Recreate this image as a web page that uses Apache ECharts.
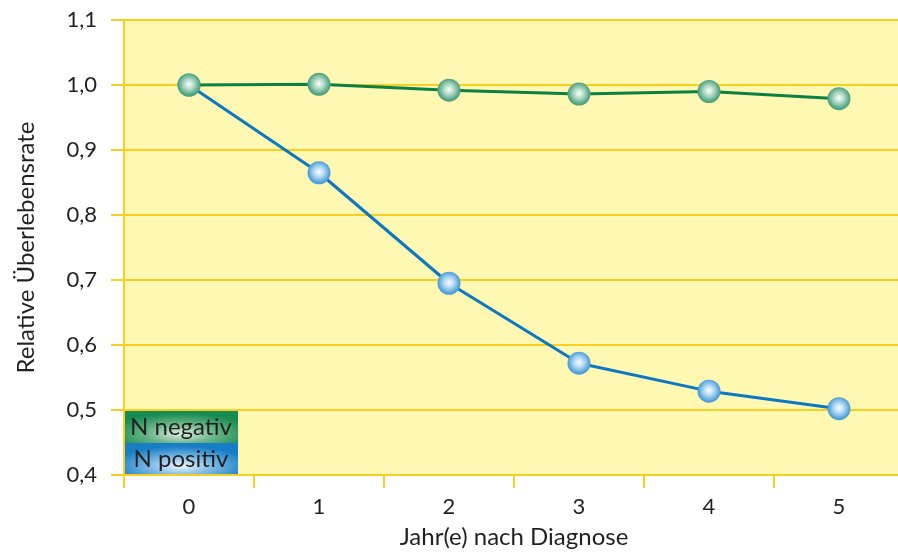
<!DOCTYPE html>
<html>
<head>
<meta charset="utf-8">
<style>
  html, body { margin: 0; padding: 0; background: #ffffff; }
  #chart { width: 898px; height: 552px; }
</style>
<script src="https://cdn.jsdelivr.net/npm/echarts@6/dist/echarts.min.js"></script>
</head>
<body>
<div id="chart"></div>
<script>
// Years after diagnosis
const years = ['0', '1', '2', '3', '4', '5'];
// Relative survival, node-negative patients
const nNegativ = [1.000, 1.001, 0.992, 0.986, 0.990, 0.979];
// Relative survival, node-positive patients
const nPositiv = [1.000, 0.865, 0.695, 0.572, 0.529, 0.502];
// Value axis range
const yMin = 0.4, yMax = 1.1, yStep = 0.1;

const gold = '#F8CF1F';
const textColor = '#231F20';
const font = 'Lato';

// Shaded ball used as the point marker
function sphere(mid, edge) {
  return {
    type: 'radial', x: 0.5, y: 0.47, r: 0.55,
    colorStops: [
      { offset: 0, color: '#ffffff' },
      { offset: 0.45, color: mid },
      { offset: 0.85, color: edge },
      { offset: 1, color: edge }
    ]
  };
}

// Soft glow fill for the key boxes
function glow(light, mid, edge) {
  return {
    type: 'radial', x: 0.5, y: 0.72, r: 0.62,
    colorStops: [
      { offset: 0, color: light },
      { offset: 0.45, color: mid },
      { offset: 1, color: edge }
    ]
  };
}

const boxW = 114, boxH = 33;
const sx = boxW / boxH;

const chart = echarts.init(document.getElementById('chart'));
chart.setOption({
  animation: false,
  textStyle: { fontFamily: font, color: textColor },
  grid: {
    left: 124, top: 20, bottom: 77, width: 780,
    outerBoundsMode: 'none',
    containLabel: false,
    show: true, backgroundColor: '#FEF8B2', borderWidth: 0
  },
  xAxis: {
    type: 'category',
    data: years,
    boundaryGap: true,
    name: 'Jahr(e) nach Diagnose',
    nameLocation: 'middle',
    nameGap: 50,
    nameTextStyle: { fontSize: 24, color: textColor, fontFamily: font },
    axisLine: { show: true, lineStyle: { color: gold, width: 2 } },
    axisTick: { show: true, length: 13, lineStyle: { color: gold, width: 2 } },
    axisLabel: { fontSize: 22, color: textColor, margin: 21, fontFamily: font },
    splitLine: { show: false }
  },
  yAxis: {
    type: 'value',
    min: yMin, max: yMax, interval: yStep,
    name: 'Relative Überlebensrate',
    nameLocation: 'middle',
    nameGap: 86,
    nameRotate: 90,
    nameTextStyle: { fontSize: 24, color: textColor, fontFamily: font },
    axisLine: { show: true, lineStyle: { color: gold, width: 2 } },
    axisTick: { show: true, length: 13, lineStyle: { color: gold, width: 2 } },
    axisLabel: {
      fontSize: 22, color: textColor, margin: 27, fontFamily: font,
      formatter: v => v.toFixed(1).replace('.', ',')
    },
    splitLine: { show: true, lineStyle: { color: gold, width: 2 } }
  },
  series: [
    {
      name: 'N positiv',
      type: 'line',
      data: nPositiv,
      symbol: 'circle',
      symbolSize: 23,
      lineStyle: { color: '#0A78C2', width: 3 },
      itemStyle: { color: sphere('#A9D3F0', '#4E9FD8'), borderWidth: 0 },
      z: 2
    },
    {
      name: 'N negativ',
      type: 'line',
      data: nNegativ,
      symbol: 'circle',
      symbolSize: 23,
      lineStyle: { color: '#0B8043', width: 3 },
      itemStyle: { color: sphere('#A6D4BE', '#4FA27F'), borderWidth: 0 },
      z: 3
    }
  ],
  graphic: [
    {
      type: 'group',
      left: 124,
      top: 410,
      z: 10,
      children: [
        {
          type: 'group', scaleX: sx, scaleY: 1,
          children: [
            { type: 'rect', shape: { x: 0, y: 0, width: boxH, height: boxH }, style: { fill: glow('#E2F1E6', '#6FB88D', '#178C52') } },
            { type: 'rect', shape: { x: 0, y: boxH, width: boxH, height: 32 }, style: { fill: glow('#F0F8FD', '#7DBBE6', '#177DC5') } }
          ]
        },
        { type: 'text', x: 57, y: 17, style: { text: 'N negativ', fill: textColor, font: '24px Lato', align: 'center', verticalAlign: 'middle' } },
        { type: 'text', x: 57, y: 49, style: { text: 'N positiv', fill: textColor, font: '24px Lato', align: 'center', verticalAlign: 'middle' } }
      ]
    }
  ]
});
</script>
</body>
</html>
